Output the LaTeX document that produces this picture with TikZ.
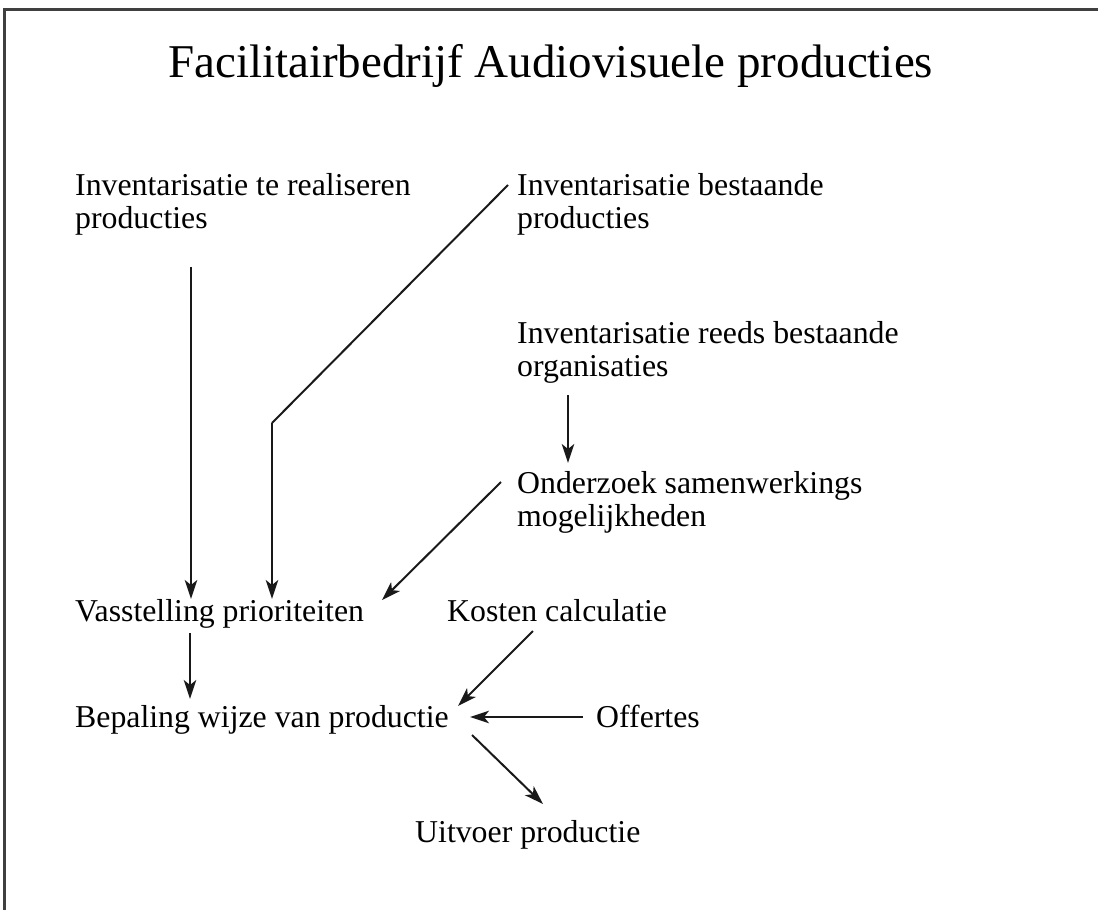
\documentclass[tikz,border=0pt]{standalone}
\usepackage{fontspec}
\setmainfont{Liberation Serif}
\usetikzlibrary{arrows.meta,calc}
\begin{document}
\begin{tikzpicture}[x=1pt,y=-1pt,
  lbl/.style={anchor=base west,inner sep=0pt,font=\fontsize{31.8}{33.5}\selectfont,text=black},
  conn/.style={line width=2pt,draw=black!90},
  arr/.style={conn,-{Stealth[length=19pt,width=12.5pt,inset=5pt]}},
  frame/.style={line width=3pt,draw=black!75}]
\useasboundingbox (0,0) rectangle (1098,910);
\draw[frame] (4,910) -- (4,9) -- (1098,9);
\node[anchor=base west,inner sep=0pt,font=\fontsize{47}{50}\selectfont,text=black] (title) at (168,77) {Facilitairbedrijf Audiovisuele producties};
\node[lbl] (n1) at (75,195) {\begin{tabular}[t]{@{}l@{}}Inventarisatie te realiseren\\producties\end{tabular}};
\node[lbl] (n2) at (517,195) {\begin{tabular}[t]{@{}l@{}}Inventarisatie bestaande\\producties\end{tabular}};
\node[lbl] (n3) at (517,343) {\begin{tabular}[t]{@{}l@{}}Inventarisatie reeds bestaande\\organisaties\end{tabular}};
\node[lbl] (n4) at (517,493) {\begin{tabular}[t]{@{}l@{}}Onderzoek samenwerkings\\mogelijkheden\end{tabular}};
\node[lbl] (n5) at (75,621) {Vasstelling prioriteiten};
\node[lbl] (n6) at (75,727) {Bepaling wijze van productie};
\node[lbl] (n7) at (447,621) {Kosten calculatie};
\node[lbl] (n8) at (596,727) {Offertes};
\node[lbl] (n9) at (415,842) {Uitvoer productie};
% connectors
\draw[arr] ([shift={(116,72)}]n1.base west) -- ([shift={(116,-22)}]n5.base west);
\coordinate (j) at (272,423);
\draw[conn] ([shift={(-9,-10)}]n2.base west) -- (j);
\draw[arr] (j) -- ([shift={(197,-22)}]n5.base west);
\draw[arr] ([shift={(51,52)}]n3.base west) -- ([shift={(51,-30)}]n4.base west);
\draw[arr] ([shift={(-16,-11)}]n4.base west) -- ([shift={(307,-21)}]n5.base west);
\draw[arr] ([shift={(115,12)}]n5.base west) -- ([shift={(115,-28)}]n6.base west);
\draw[arr] ([shift={(86,10)}]n7.base west) -- ([shift={(383,-21)}]n6.base west);
\draw[arr] ([shift={(-13,-10)}]n8.base west) -- ([shift={(395,-10)}]n6.base west);
\draw[arr] ([shift={(397,8)}]n6.base west) -- ([shift={(128,-38)}]n9.base west);
\end{tikzpicture}
\end{document}
